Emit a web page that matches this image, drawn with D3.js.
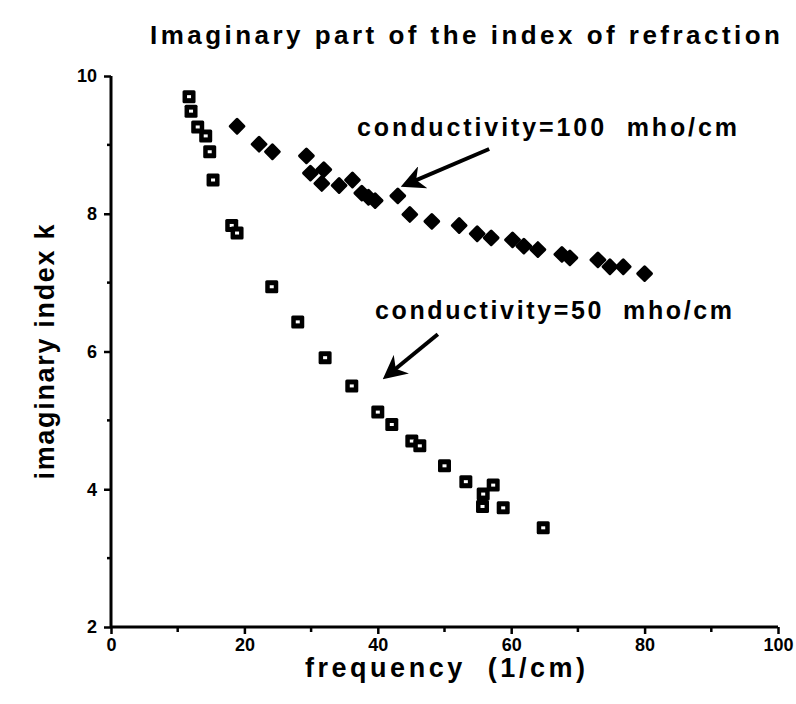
<!DOCTYPE html>
<html>
<head>
<meta charset="utf-8">
<script src="https://cdn.jsdelivr.net/npm/d3@7"></script>
<style>
  body { margin: 0; background: #fff; }
  text { font-family: "Liberation Sans", Helvetica, Arial, sans-serif; font-weight: bold; fill: #000; white-space: pre; }
</style>
</head>
<body>
<svg id="chart"></svg>
<script>
var width = 796;
var height = 704;
var margin = {left: 111, right: 18, top: 76, bottom: 77};

// conductivity = 50 mho/cm (open squares)
var freq50 = [11.7, 12.0, 13.0, 14.2, 14.8, 15.3, 18.1, 18.9, 24.1, 28.0, 32.1, 36.1, 40.0, 42.1, 45.1, 46.3, 50.0, 53.2, 57.3, 55.8, 55.7, 58.8, 64.8];
var k50 =    [9.70, 9.49, 9.26, 9.13, 8.90, 8.49, 7.83, 7.72, 6.94, 6.43, 5.91, 5.50, 5.12, 4.94, 4.70, 4.63, 4.34, 4.11, 4.06, 3.93, 3.75, 3.73, 3.44];

// conductivity = 100 mho/cm (filled diamonds)
var freq100 = [18.9, 22.2, 24.2, 29.3, 29.9, 31.9, 31.6, 34.2, 36.2, 37.6, 38.6, 39.6, 43.0, 44.8, 48.1, 52.2, 54.9, 57.0, 60.2, 61.9, 64.0, 67.6, 68.8, 73.0, 74.8, 76.8, 80.0];
var k100 =    [9.27, 9.01, 8.90, 8.84, 8.59, 8.64, 8.44, 8.41, 8.49, 8.30, 8.24, 8.19, 8.26, 7.99, 7.89, 7.83, 7.71, 7.65, 7.62, 7.53, 7.48, 7.41, 7.36, 7.33, 7.23, 7.23, 7.13];

var xTicks = [0, 20, 40, 60, 80, 100];
var yTicks = [2, 4, 6, 8, 10];

var svg = d3.select("#chart").attr("width", width).attr("height", height);

var x = d3.scaleLinear().domain([0, 100]).range([margin.left, width - margin.right]);
var y = d3.scaleLinear().domain([2, 10]).range([height - margin.bottom, margin.top]);

// axes
var xAxis = d3.axisBottom(x).tickValues(xTicks).tickSize(7).tickPadding(4);
var yAxis = d3.axisLeft(y).tickValues(yTicks).tickSize(7).tickPadding(7);

var gx = svg.append("g").attr("transform", "translate(0," + y(2) + ")").call(xAxis);
var gy = svg.append("g").attr("transform", "translate(" + x(0) + ",0)").call(yAxis);

[gx, gy].forEach(function (g) {
    g.select(".domain").attr("stroke", "#000").attr("stroke-width", 3);
    g.selectAll(".tick line").attr("stroke", "#000").attr("stroke-width", 2.5);
    g.selectAll(".tick text").style("font-size", "18px").attr("font-family", null);
});
gx.select(".domain").attr("d", "M" + x(0) + ",0H" + x(100));
gy.select(".domain").attr("d", "M0," + y(2) + "V" + y(10));

// minor ticks
svg.append("g").selectAll("line")
    .data([10, 30, 50, 70, 90])
    .enter().append("line")
    .attr("x1", function (d) { return x(d); })
    .attr("x2", function (d) { return x(d); })
    .attr("y1", y(2)).attr("y2", y(2) + 5)
    .attr("stroke", "#000").attr("stroke-width", 2.5);
svg.append("g").selectAll("line")
    .data([3, 5, 7, 9])
    .enter().append("line")
    .attr("y1", function (d) { return y(d); })
    .attr("y2", function (d) { return y(d); })
    .attr("x1", x(0)).attr("x2", x(0) - 4)
    .attr("stroke", "#000").attr("stroke-width", 2.5);

// squares
var sq = svg.append("g").selectAll("g")
    .data(d3.zip(freq50, k50))
    .enter().append("g")
    .attr("transform", function (d) { return "translate(" + x(d[0]) + "," + y(d[1]) + ")"; });
sq.append("rect").attr("x", -6.5).attr("y", -6.5).attr("width", 13).attr("height", 13).attr("rx", 1.5).attr("fill", "#000");
sq.append("rect").attr("x", -2).attr("y", -1.5).attr("width", 4).attr("height", 3).attr("fill", "#fff");

// diamonds
svg.append("g").selectAll("path")
    .data(d3.zip(freq100, k100))
    .enter().append("path")
    .attr("d", d3.symbol().type(d3.symbolDiamond2).size(120))
    .attr("transform", function (d) { return "translate(" + x(d[0]) + "," + y(d[1]) + ")"; })
    .attr("fill", "#000")
    .attr("stroke", "#000")
    .attr("stroke-width", 3)
    .attr("stroke-linejoin", "round");

// arrows
svg.append("defs").append("marker")
    .attr("id", "head")
    .attr("viewBox", "0 0 10 10")
    .attr("refX", 8).attr("refY", 5)
    .attr("markerWidth", 6).attr("markerHeight", 6)
    .attr("markerUnits", "strokeWidth")
    .attr("orient", "auto")
    .append("path").attr("d", "M0,0L10,5L0,10L3,5Z").attr("fill", "#000");

svg.append("line")
    .attr("x1", x(56.7)).attr("y1", y(8.94))
    .attr("x2", x(44.1)).attr("y2", y(8.42))
    .attr("stroke", "#000").attr("stroke-width", 4)
    .attr("marker-end", "url(#head)");
svg.append("line")
    .attr("x1", x(49.0)).attr("y1", y(6.25))
    .attr("x2", x(41.3)).attr("y2", y(5.64))
    .attr("stroke", "#000").attr("stroke-width", 4)
    .attr("marker-end", "url(#head)");

// labels
svg.append("text")
    .attr("x", 357).attr("y", 136)
    .attr("textLength", 380).attr("lengthAdjust", "spacing")
    .style("font-size", "25px")
    .text("conductivity=100  mho/cm");
svg.append("text")
    .attr("x", 375).attr("y", 319)
    .attr("textLength", 357).attr("lengthAdjust", "spacing")
    .style("font-size", "25px")
    .text("conductivity=50  mho/cm");

// title
svg.append("text")
    .attr("x", 150).attr("y", 44)
    .attr("textLength", 630).attr("lengthAdjust", "spacing")
    .style("font-size", "26px")
    .text("Imaginary part of the index of refraction");

// axis titles
svg.append("text")
    .attr("x", 445).attr("y", 677)
    .attr("text-anchor", "middle")
    .attr("textLength", 280).attr("lengthAdjust", "spacing")
    .style("font-size", "27px")
    .text("frequency  (1/cm)");
svg.append("text")
    .attr("transform", "translate(54,352) rotate(-90)")
    .attr("text-anchor", "middle")
    .attr("textLength", 255).attr("lengthAdjust", "spacing")
    .style("font-size", "27px")
    .text("imaginary index k");
</script>
</body>
</html>
